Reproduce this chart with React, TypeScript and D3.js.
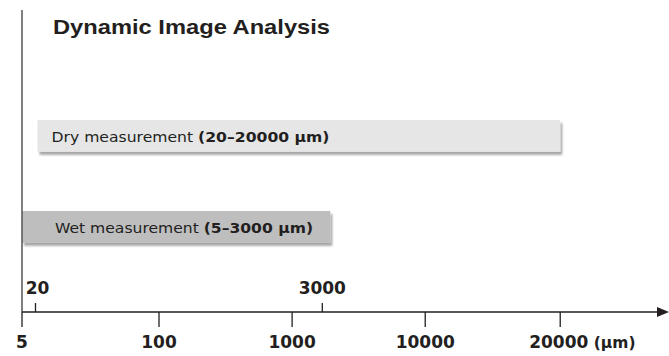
import React from "react";
import * as d3 from "d3";

const W = 669;
const H = 356;

// schematic axis stops (value -> position along a piecewise scale)
const axisStops = [5, 20, 100, 1000, 3000, 10000, 20000];
const axisFractions = [0, 0.0208, 0.2111, 0.4162, 0.4627, 0.6213, 0.8293];

const bottomTicks = [5, 100, 1000, 10000, 20000];
const topTicks = [20, 3000];

const measurements = [
  { name: "Dry measurement", range: "(20–20000 µm)", from: 20, to: 20000, fill: "#e6e6e7" },
  { name: "Wet measurement", range: "(5–3000 µm)", from: 5, to: 3000, fill: "#bebebf" },
];

export default function App() {
  const x0 = 22;
  const x1 = 671;
  const axisY = 312;
  const x = d3
    .scaleLinear()
    .domain(axisStops)
    .range(axisFractions.map((f) => x0 + f * (x1 - x0)));

  const y = d3
    .scaleBand()
    .domain(measurements.map((m) => m.name))
    .range([120, 242.85])
    .paddingInner(0.65)
    .paddingOuter(0);

  const font = "'Liberation Sans', Arial, sans-serif";
  const numFont = "'DejaVu Sans', sans-serif";
  const ink = "#231f20";
  const textLens = [278, 258];

  return (
    <svg width={W} height={H} style={{ position: "absolute", left: 0, top: 0 }} fontFamily={font}>
      <defs>
        <filter id="sh" x="-5%" y="-30%" width="115%" height="180%">
          <feDropShadow dx="2" dy="3" stdDeviation="1.2" floodColor="#000" floodOpacity="0.35" />
        </filter>
      </defs>
      <rect width={W} height={H} fill="#fff" />
      <text x={53} y={34} fontSize={21} fontWeight="bold" fill={ink} textLength={277} lengthAdjust="spacingAndGlyphs">
        Dynamic Image Analysis
      </text>

      {measurements.map((m, i) => {
        const bx = i === 0 ? x(m.from) + 2 : x(m.from);
        const bw = x(m.to) - bx + (i === 1 ? 8 : 0);
        const by = y(m.name)!;
        const bh = y.bandwidth();
        return (
          <g key={m.name}>
            <rect x={bx} y={by} width={bw} height={bh} fill={m.fill} filter="url(#sh)" />
            <text
              x={bx + (i === 0 ? 14 : 33)}
              y={by + bh / 2 + 6}
              fontSize={14.5}
              fontFamily={numFont}
              fill={ink}
              textLength={textLens[i]}
              lengthAdjust="spacingAndGlyphs"
            >
              {m.name} <tspan fontWeight="bold">{m.range}</tspan>
            </text>
          </g>
        );
      })}

      {/* vertical left line */}
      <line x1={x0} x2={x0} y1={10} y2={axisY} stroke="#555" strokeWidth={1.5} />

      {/* horizontal axis */}
      <line x1={x0} x2={660} y1={axisY} y2={axisY} stroke={ink} strokeWidth={1.5} />
      <path d={`M669,${axisY} L657,${axisY - 5} L657,${axisY + 5} Z`} fill={ink} />

      {bottomTicks.map((t) => (
        <g key={t}>
          <line x1={x(t)} x2={x(t)} y1={axisY} y2={axisY + 15} stroke={ink} strokeWidth={1.3} />
          <text
            x={x(t)}
            y={348}
            fontSize={17}
            fontWeight="bold"
            fontFamily={numFont}
            fill={ink}
            textAnchor={t === 20000 ? "start" : "middle"}
            dx={t === 20000 ? -31 : 0}
          >
            {t}
            {t === 20000 ? <tspan fontSize={15.5}> (µm)</tspan> : null}
          </text>
        </g>
      ))}
      {topTicks.map((t) => (
        <g key={t}>
          <line x1={x(t)} x2={x(t)} y1={axisY - 9} y2={axisY} stroke={ink} strokeWidth={1.3} />
          <text x={x(t) + (t === 20 ? 2 : 0)} y={294} fontSize={17} fontWeight="bold" fontFamily={numFont} fill={ink} textAnchor="middle">
            {t}
          </text>
        </g>
      ))}
    </svg>
  );
}
